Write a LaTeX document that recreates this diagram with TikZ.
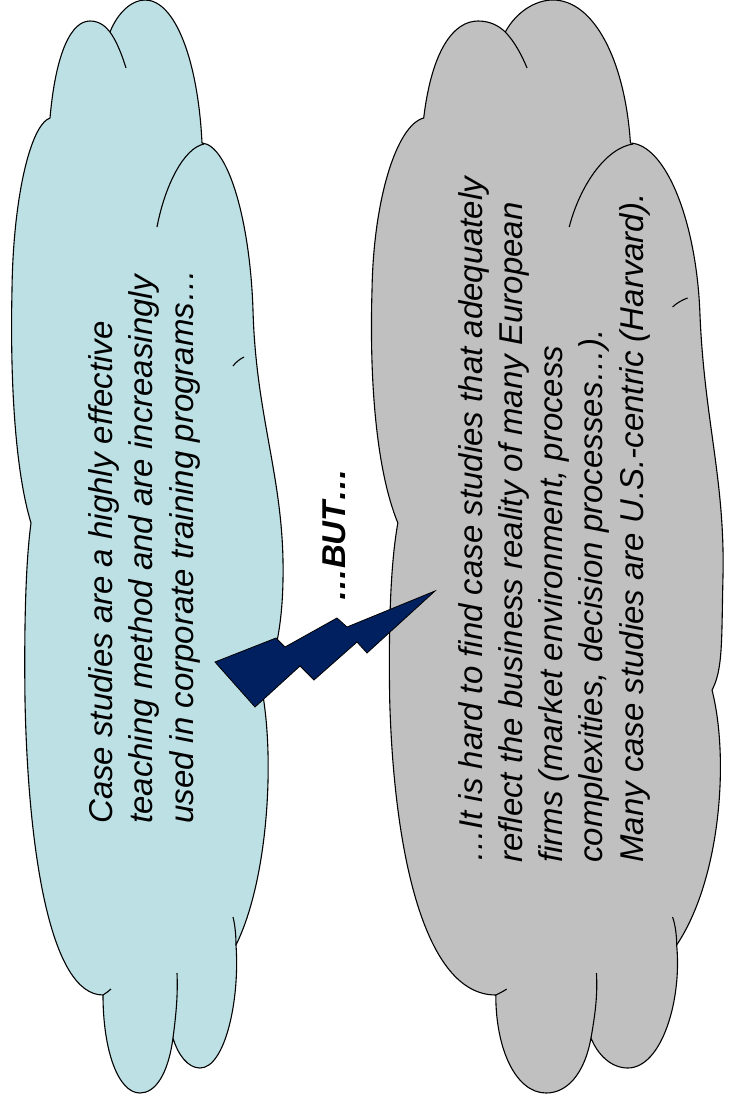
\documentclass[tikz,border=0pt]{standalone}
\usepackage{fontspec}
\setmainfont{Liberation Sans}
\definecolor{cloudblue}{RGB}{188,224,228}
\definecolor{cloudgray}{RGB}{192,192,192}
\definecolor{boltnavy}{RGB}{0,32,96}
% One cloud: #1 fill colour, #2 how far the long right-hand lobe bulges,
% #3 height of the small inner arc on the right-hand side
\newcommand{\cloudbody}[3]{%
  \draw[cloudedge, fill=#1]
    (50,118) .. controls (56,50) and (72,21) .. (90,21)
    .. controls (100,21) and (106,27) .. (110,32)
    .. controls (118,12) and (132,0) .. (145,0)
    .. controls (175,0) and (198,60) .. (202,143)
    .. controls (228,145) and (250,220) .. (253,310)
    .. controls (256,420) and (#2+2,480) .. (#2,580)
    .. controls (#2-1,640) and (270,670) .. (262,690)
    .. controls (275,760) and (268,880) .. (236,945)
    .. controls (240,1000) and (225,1068) .. (200,1068)
    .. controls (188,1068) and (178,1055) .. (173,1038)
    .. controls (168,1075) and (155,1093) .. (140,1093)
    .. controls (118,1093) and (103,1050) .. (103,995)
    .. controls (50,995) and (28,850) .. (25,700)
    .. controls (24,620) and (26,560) .. (31,523)
    .. controls (15,470) and (10,380) .. (12,290)
    .. controls (13,200) and (30,125) .. (50,118) -- cycle;
  \draw[cloudedge] (110,32) .. controls (117,42) and (122,55) .. (126,68);
  \draw[cloudedge] (157,227) .. controls (165,185) and (184,148) .. (204,144);
  \draw[cloudedge] (233,#3+4) .. controls (236,#3) and (240,#3-3) .. (244,#3-5);
  \draw[cloudedge] (236,945) .. controls (236,935) and (235,925) .. (233,917);
  \draw[cloudedge] (173,1038) .. controls (176,1015) and (178,995) .. (177,973);
  \draw[cloudedge] (103,995) .. controls (106,993) and (109,991) .. (111,989);
}
\begin{document}
\begin{tikzpicture}[x=1pt, y=-1pt,
  cloudedge/.style={draw=black, line width=1.1pt, line join=round},
  boltshape/.style={draw=black, line width=0.8pt, fill=boltnavy, line join=miter},
  linetext/.style={rotate=90, anchor=base west, inner sep=0pt,
    font=\fontsize{33}{40}\selectfont\itshape},
  buttext/.style={rotate=90, anchor=base, inner sep=0pt,
    font=\fontsize{33}{40}\selectfont\bfseries\itshape}]
\useasboundingbox (0,0) rectangle (740,1105);
\fill[white] (0,0) rectangle (740,1105);

% left cloud
\cloudbody{cloudblue}{283}{362}
% right cloud: same outline, widened
\begin{scope}[shift={(355.7,0)}, xscale=1.36]
  \cloudbody{cloudgray}{270}{303}
\end{scope}

% lightning bolt between the clouds
\draw[boltshape] (215,662) -- (276,638) -- (285,647) -- (337,618) -- (347,627)
  -- (435,591) -- (367,653) -- (357,642) -- (314,680) -- (300,666)
  -- (255,707) -- cycle;

% texts
\node[linetext] (l1) at (112,824) {Case studies are a highly effective};
\node[linetext] (l2) at (152.5,824) {teaching method and are increasingly};
\node[linetext] (l3) at (193,824) {used in corporate training programs…};

\node[buttext] (but) at (345,535) {…BUT…};

\node[linetext] (r1) at (482,863) {…It is hard to find case studies that adequately};
\node[linetext] (r2) at (522,863) {reflect the business reality of many European};
\node[linetext] (r3) at (562.5,863) {firms (market environment, process};
\node[linetext] (r4) at (602.5,863) {complexities, decision processes…).};
\node[linetext] (r5) at (643,863) {Many case studies are U.S.-centric (Harvard).};
\end{tikzpicture}
\end{document}
